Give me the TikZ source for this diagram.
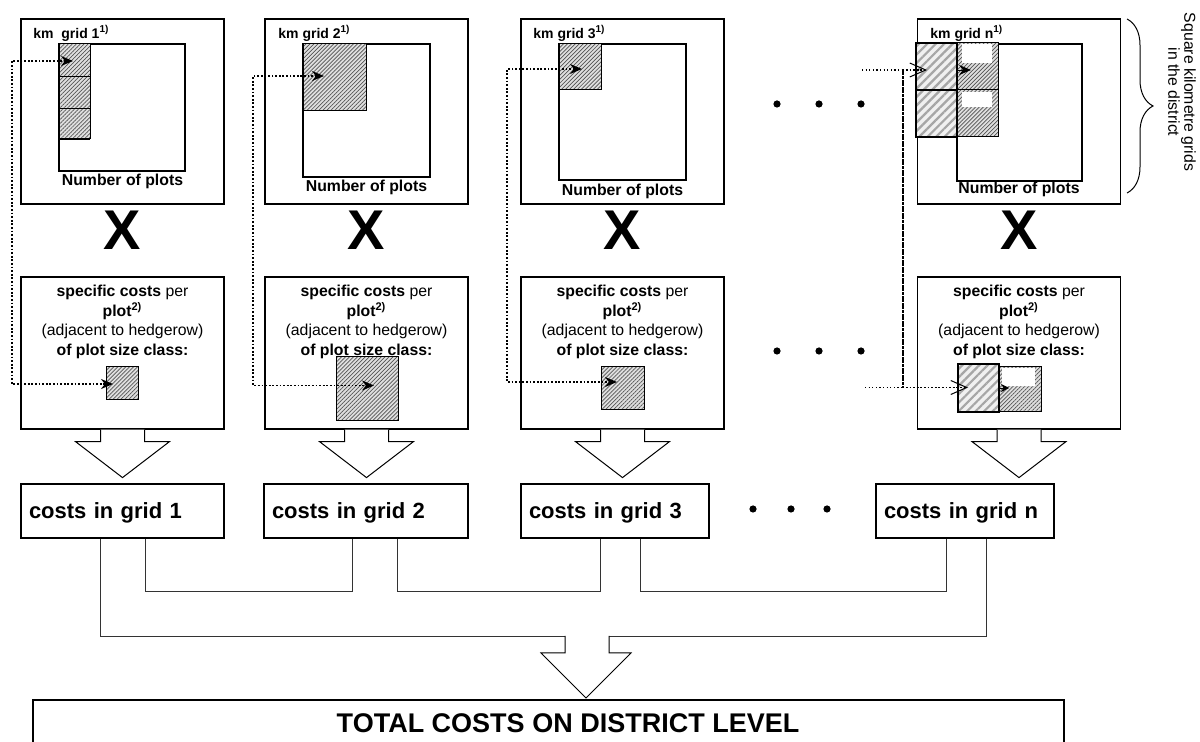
\documentclass[tikz,border=0pt]{standalone}
\usepackage{fontspec}
\setmainfont{Liberation Sans}
\usetikzlibrary{arrows.meta, calc, patterns.meta, decorations.pathreplacing}

\newcommand{\boxfont}{\fontsize{7.9}{9.85}\selectfont}
\newcommand{\titlefont}{\fontsize{7}{8}\selectfont\bfseries}

\tikzset{
  outer/.style={draw, line width=0.6pt, minimum width=101.5pt, minimum height=92.5pt, inner sep=0pt},
  specbox/.style={draw, line width=0.6pt, minimum width=101.5pt, minimum height=76pt, inner sep=0pt},
  costbox/.style={draw, line width=0.6pt, minimum height=27pt, inner xsep=4pt, inner ysep=0pt,
    text depth=0pt, align=left, font=\fontsize{11}{13}\selectfont\bfseries},
  hatch/.style={fill=gray!25,
    postaction={pattern={Lines[angle=45,distance=1.4pt,line width=0.35pt]}, pattern color=gray!65!black},
    postaction={draw, line width=0.5pt}},
  bighatch/.style={fill=gray!12,
    postaction={pattern={Lines[angle=45,distance=3pt,line width=1.1pt]}, pattern color=gray!70},
    postaction={draw, line width=1.1pt}},
  dotline/.style={line width=0.9pt, dash pattern=on 0.9pt off 0.9pt},
  thindots/.style={line width=0.6pt, dash pattern=on 0.6pt off 1.2pt},
  tips/.style={{Stealth[length=6pt,width=5pt]}-{Stealth[length=6pt,width=5pt]}},
  opentip/.style={-{Straight Barb[length=8pt,width=7pt,line width=0.5pt]}},
  hollow/.style={draw, line width=0.5pt, fill=white},
  link/.style={line width=0.5pt, draw=black!80}
}

\begin{document}
\begin{tikzpicture}[x=0.5pt, y=-0.5pt]
  \useasboundingbox (0,0) rectangle (1200,742);

  % the four columns
  \foreach \i/\cx/\nb in {1/122.5/186, 2/366.5/192, 3/622.5/196, n/1019/194} {
    \node[outer] (top\i) at (\cx,111.5) {};
    \node[font=\boxfont\bfseries, anchor=base] (num\i) at (\cx,\nb) {Number of plots};
    \node[font=\fontsize{28}{30}\selectfont\bfseries, anchor=base, inner sep=0pt] (x\i) at (\cx,250) {X};
    \node[specbox] (spec\i) at (\cx,353) {};
    \node[font=\boxfont, align=center, anchor=north, inner sep=0pt] (txt\i) at (\cx,284.5)
      {\textbf{specific costs} per\\\textbf{plot\textsuperscript{2)}}\\(adjacent to hedgerow)\\\textbf{of plot size class:}};
    \draw[hollow] ($(spec\i.south)+(-22,0)$) -- ++(0,12) -- ++(-25,0) -- ($(spec\i.south)+(0,48)$)
      -- ($(spec\i.south)+(47,12)$) -- ++(-25,0) -- ++(0,-12);
  }

  \node[font=\titlefont, anchor=base west, inner sep=0pt] (t1) at (33,39) {km\ \ grid 1\textsuperscript{1)}};
  \node[font=\titlefont, anchor=base west, inner sep=0pt] (t2) at (278,39) {km grid 2\textsuperscript{1)}};
  \node[font=\titlefont, anchor=base west, inner sep=0pt] (t3) at (533,39) {km grid 3\textsuperscript{1)}};
  \node[font=\titlefont, anchor=base west, inner sep=0pt] (tn) at (930,39) {km grid n\textsuperscript{1)}};

  % km squares
  \draw[line width=0.6pt] (59,44) rectangle (185,171);
  \draw[line width=0.6pt] (303,44) rectangle (430,177);
  \draw[line width=0.6pt] (559,44) rectangle (686,180);
  \draw[line width=0.6pt] (957,44) rectangle (1082,181);

  % plots in the squares
  \path[hatch] (59,44) rectangle (90,139);
  \draw[line width=0.6pt] (58,76.7) -- (90,76.7) (58,108.3) -- (90,108.3) (58,139) -- (90,139);
  \path[hatch] (303,44) rectangle (366,111);
  \path[hatch] (559,44) rectangle (601,90);
  \path[hatch] (957,43) rectangle (998,137);
  \fill[white] (962,43.8) rectangle (992,63);
  \fill[white] (962,92) rectangle (992,107);
  \draw[line width=0.5pt] (957,43) rectangle (998,137) (957,90) -- (998,90);
  \path[bighatch] (916,43) rectangle (957,90);
  \path[bighatch] (916,90) rectangle (957,137);

  % plot size classes
  \path[hatch] (106,367) rectangle (138,400);
  \path[hatch] (336,357) rectangle (398,421);
  \path[hatch] (601,367) rectangle (644,410);
  \path[hatch] (999,367) rectangle (1041,412);
  \fill[white] (1002,367.8) rectangle (1035,386);
  \draw[line width=0.5pt] (999,367) rectangle (1041,412);
  \path[bighatch] (958,364) rectangle (999,412);

  % dotted links
  \coordinate (p1) at (73,61);   \coordinate (q1) at (113,384);
  \coordinate (p2) at (324,76);  \coordinate (q2) at (374,385.5);
  \coordinate (p3) at (582,69);  \coordinate (q3) at (617,382);
  \coordinate (pn) at (927,70);  \coordinate (qn) at (968,387.5);
  \draw[dotline, tips] (p1) -- ++(-61,0) |- (q1);
  \draw[dotline, tips] (p2) -- ++(-71,0) |- (q2);
  \draw[dotline, tips] (p3) -- ++(-75,0) |- (q3);
  \draw[thindots] ($(pn)+(-65,0)$) -- ($(pn)+(-24,0)$);
  \draw[thindots] ($(qn)+(-103,0)$) -- ($(qn)+(-65,0)$);
  \draw[dotline, opentip] ($(qn)+(-65,0)$) |- (pn);
  \draw[dotline, opentip] ($(pn)+(-24,0)$) |- (qn);
  \draw[-{Stealth[length=6pt,width=5pt]}, line width=0.4pt] (958,70) -- (971,70);
  \draw[-{Stealth[length=4pt,width=4pt]}, line width=0.4pt] (1000,388) -- (1009,388);

  % dots
  \foreach \y in {104, 351}
    \foreach \x in {777, 819, 861}
      \fill (\x,\y) circle (3.6);
  \foreach \x in {753, 791, 827}
    \fill (\x,509) circle (3.6);

  % costs per grid
  \node[costbox, text width=93.5pt] (c1) at (122.5,511) {costs in grid 1};
  \node[costbox, text width=94pt] (c2) at (366,511) {costs in grid 2};
  \node[costbox, text width=86pt] (c3) at (615,511) {costs in grid 3};
  \node[costbox, text width=81pt] (cn) at (965,511) {costs in grid n};

  \draw[link] ($(c1.south)+(-22.5,0)$) -- ++(0,98) -| ($(cn.south)+(21,0)$);
  \draw[link] ($(c1.south)+(22.5,0)$) -- ++(0,53) -| ($(c2.south)+(-14,0)$);
  \draw[link] ($(c2.south)+(31,0)$) -- ++(0,53) -| ($(c3.south)+(-15,0)$);
  \draw[link] ($(c3.south)+(25,0)$) -- ++(0,53) -| ($(cn.south)+(-19,0)$);

  \coordinate (join) at (587,636);
  \draw[hollow] ($(join)+(-22,0)$) -- ++(0,17) -- ++(-24,0) -- ($(join)+(-1,62)$)
    -- ($(join)+(44,17)$) -- ++(-22,0) -- ++(0,-17);

  % total
  \draw[line width=0.6pt] (33,742) |- (1064,700) -- (1064,742);
  \node[font=\fontsize{13.5}{15}\selectfont\bfseries, anchor=base] (total) at (568,733) {TOTAL COSTS ON DISTRICT LEVEL};

  % brace
  \draw[line width=0.5pt, decorate, decoration={brace, amplitude=13pt}] (1127,19) -- (1127,193);
  \node[rotate=-90, align=center, font=\fontsize{7.9}{8}\selectfont, inner sep=0pt] (side) at (1182,92)
    {Square kilometre grids\\in the district};
\end{tikzpicture}
\end{document}
